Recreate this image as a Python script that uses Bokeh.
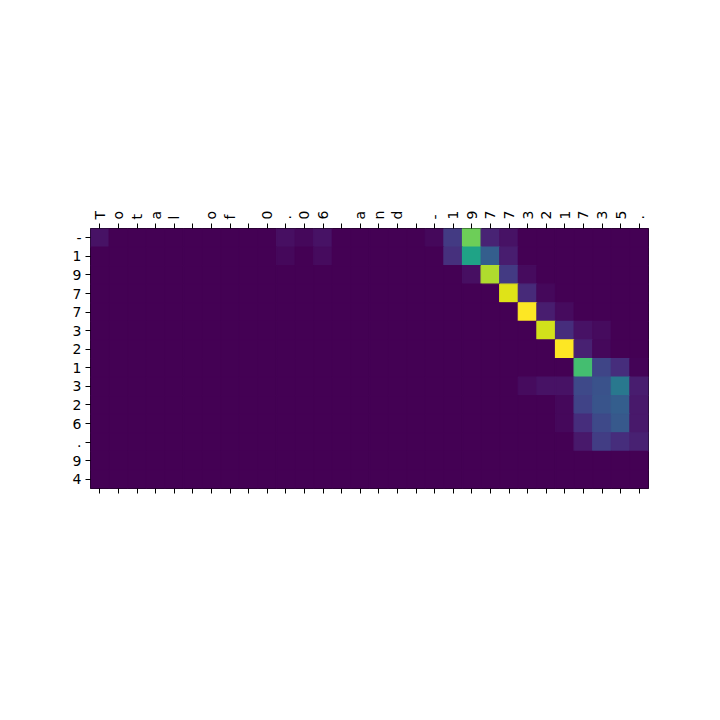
from bokeh.plotting import figure
from bokeh.models import LinearColorMapper, FixedTicker, Range1d, LinearAxis, ColumnDataSource
from bokeh.palettes import Viridis256
from bokeh.embed import file_html
from bokeh.resources import INLINE

x_chars = list("Total of 0.06 and -1977321735.")
y_chars = list("-1977321326.94")

# attention weights: sparse entries per row {col: value}
row_00 = {0: 0.05, 10: 0.04, 11: 0.02, 12: 0.05, 18: 0.02, 19: 0.17, 20: 0.78, 21: 0.10, 22: 0.05}
row_01 = {10: 0.02, 12: 0.03, 19: 0.14, 20: 0.58, 21: 0.30, 22: 0.08}
row_02 = {20: 0.04, 21: 0.88, 22: 0.17, 23: 0.03}
row_03 = {22: 0.95, 23: 0.12, 24: 0.02}
row_04 = {23: 1.00, 24: 0.08, 25: 0.03}
row_05 = {24: 0.93, 25: 0.13, 26: 0.05, 27: 0.03}
row_06 = {25: 1.00, 26: 0.09, 27: 0.02}
row_07 = {26: 0.70, 27: 0.21, 28: 0.13, 29: 0.01}
row_08 = {23: 0.03, 24: 0.05, 25: 0.05, 26: 0.22, 27: 0.25, 28: 0.40, 29: 0.08}
row_09 = {25: 0.02, 26: 0.20, 27: 0.26, 28: 0.30, 29: 0.07}
row_10 = {25: 0.02, 26: 0.13, 27: 0.22, 28: 0.28, 29: 0.07}
row_11 = {26: 0.07, 27: 0.18, 28: 0.13, 29: 0.09}
row_12 = {}
row_13 = {}
rows = [row_00, row_01, row_02, row_03, row_04, row_05, row_06,
        row_07, row_08, row_09, row_10, row_11, row_12, row_13]

nx, ny = len(x_chars), len(y_chars)
xs, ys, vals = [], [], []
for r, row in enumerate(rows):
    for c in range(nx):
        xs.append(c)
        ys.append(ny - 1 - r)
        vals.append(row.get(c, 0.0))

src = ColumnDataSource(dict(x=xs, y=ys, v=vals))
mapper = LinearColorMapper(palette=Viridis256, low=0, high=max(vals))

p = figure(width=704, height=704, output_backend="svg", toolbar_location=None,
           x_range=Range1d(-0.5, nx - 0.5),
           y_range=Range1d(-0.5, ny - 0.5),
           x_axis_location=None, y_axis_location=None,
           min_border_left=90, min_border_right=56, min_border_top=228, min_border_bottom=216)
p.rect(x="x", y="y", width=1, height=1, source=src,
       fill_color={"field": "v", "transform": mapper},
       line_color={"field": "v", "transform": mapper}, line_width=1.2)
p.grid.visible = False
p.outline_line_color = "black"
p.outline_line_width = 1
p.background_fill_color = Viridis256[0]
p.border_fill_color = "white"

font = "DejaVu Sans"
fs = "14px"

def style(ax):
    ax.major_label_text_font = font
    ax.major_label_text_font_size = fs
    ax.major_label_text_color = "black"
    ax.major_tick_in = 0
    ax.major_tick_out = 5
    ax.major_tick_line_color = "black"
    ax.minor_tick_out = 0
    ax.minor_tick_in = 0
    ax.axis_line_color = None
    ax.major_label_standoff = 4

top = LinearAxis(ticker=FixedTicker(ticks=list(range(nx))))
top.major_label_overrides = {i: ch for i, ch in enumerate(x_chars)}
top.major_label_orientation = "vertical"
style(top)
p.add_layout(top, "above")

bottom = LinearAxis(ticker=FixedTicker(ticks=list(range(nx))))
bottom.major_label_overrides = {i: "" for i in range(nx)}
style(bottom)
p.add_layout(bottom, "below")

left = LinearAxis(ticker=FixedTicker(ticks=list(range(ny))))
left.major_label_overrides = {ny - 1 - i: ch for i, ch in enumerate(y_chars)}
style(left)
p.add_layout(left, "left")

open("out.html", "w").write(file_html(p, INLINE))
